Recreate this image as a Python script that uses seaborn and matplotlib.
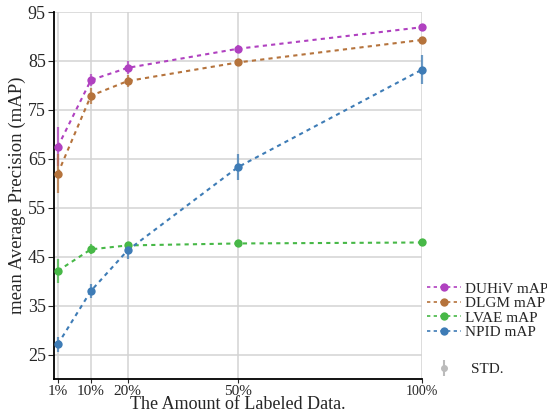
import numpy as np
import pandas as pd
import matplotlib
matplotlib.use("Agg")
import matplotlib.pyplot as plt
import seaborn as sns
from matplotlib.lines import Line2D

labeled = [1, 10, 20, 50, 100]
tick_labels = ["1%", "10%", "20%", "50%", "100%"]

duhiv = [67.5, 81.1, 83.6, 87.5, 91.9]
duhiv_std = [4.0, 1.3, 1.3, 0.7, 0.6]
dlgm = [62.0, 77.9, 80.9, 84.7, 89.3]
dlgm_std = [4.0, 1.6, 1.3, 0.6, 0.5]
lvae = [42.1, 46.5, 47.3, 47.7, 47.9]
lvae_std = [2.5, 1.0, 0.8, 0.7, 0.7]
npid = [27.1, 38.0, 46.3, 63.3, 83.2]
npid_std = [1.5, 1.5, 1.8, 2.6, 3.0]

names = ["DUHiV mAP", "DLGM mAP", "LVAE mAP", "NPID mAP"]
colors = ["#b041c0", "#b5733c", "#47b847", "#3e7cb6"]

sns.set_style("whitegrid")
plt.rcParams["font.family"] = ["Liberation Serif", "DejaVu Serif"]

rows = []
for name, vals, stds in zip(names, [duhiv, dlgm, lvae, npid],
                            [duhiv_std, dlgm_std, lvae_std, npid_std]):
    for x, v, s in zip(labeled, vals, stds):
        rows.append({"pct": x, "map": v, "std": s, "model": name})
df = pd.DataFrame(rows)

fig = plt.figure(figsize=(5.47, 4.16), dpi=100)
ax = fig.add_axes([0.099, 0.089, 0.672, 0.882])

for name, color in zip(names, colors):
    sub = df[df["model"] == name]
    ax.errorbar(sub["pct"], sub["map"], yerr=sub["std"], fmt="none",
                ecolor=color, elinewidth=1.6, alpha=0.75, zorder=2, clip_on=False)

sns.lineplot(data=df, x="pct", y="map", hue="model", palette=colors,
             hue_order=names, marker="o", markersize=6, markeredgewidth=0,
             linestyle=(0, (2, 2)), linewidth=1.5, legend=False, ax=ax,
             zorder=3, clip_on=False)

ax.set_xlim(0, 100)
ax.set_ylim(20, 95)
ax.set_xticks(labeled)
ax.set_xticklabels(tick_labels)
ax.set_yticks([25, 35, 45, 55, 65, 75, 85, 95])
ax.tick_params(axis="x", labelsize=11, length=3, pad=1, direction="out", bottom=True)
ax.tick_params(axis="y", labelsize=13, length=4, pad=2, direction="out", left=True)
ax.get_xticklabels()[-1].set_fontsize(10)
ax.grid(True, color="#d3d3d3", linewidth=1.1)
ax.spines["left"].set_color("black")
ax.spines["bottom"].set_color("black")
ax.spines["left"].set_linewidth(1.3)
ax.spines["bottom"].set_linewidth(1.3)
ax.spines["top"].set_visible(False)
ax.spines["right"].set_visible(False)
ax.set_xlabel("The Amount of Labeled Data.", fontsize=13, labelpad=-1)
ax.set_ylabel("mean Average Precision (mAP)", fontsize=13.5, labelpad=1)

handles = [Line2D([0], [0], color=c, linestyle=(0, (2, 2)), marker="o",
                  markersize=6, markeredgewidth=0, linewidth=1.2) for c in colors]
fig.legend(handles, names, loc="upper left", bbox_to_anchor=(0.781, 0.322),
           frameon=False, fontsize=11, handlelength=2.2, handletextpad=0.25,
           labelspacing=0.05, borderpad=0, borderaxespad=0)

std_h = ax.errorbar([], [], yerr=[], color="#bbbbbb", marker="o", markersize=4,
                    elinewidth=1.5, linestyle="none")
fig.legend([std_h], ["STD."], loc="upper left", bbox_to_anchor=(0.797, 0.128),
           frameon=False, fontsize=11, handlelength=1.0, handletextpad=1.3,
           borderpad=0, borderaxespad=0)

fig.savefig("out.png", dpi=100)
